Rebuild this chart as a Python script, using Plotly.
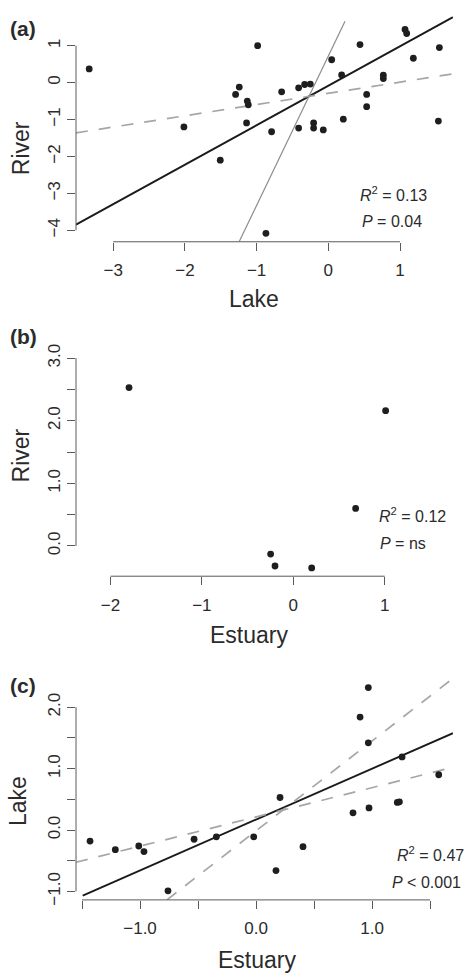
import plotly.graph_objects as go

W, H = 464, 978

# ---------------- data ----------------
# Panel (a): Lake (x) vs River (y)
lake_a = [-3.335, -2.014, -1.507, -1.293, -1.242, -1.130, -1.116, -1.140, -0.986, -0.791,
          -0.651, -0.870, -0.414, -0.414, -0.330, -0.251, -0.205, -0.205, -0.070, 0.047,
          0.186, 0.209, 0.442, 0.535, 0.535, 0.767, 0.767, 1.070, 1.093, 1.186, 1.549, 1.535]
river_a = [0.37, -1.20, -2.10, -0.32, -0.12, -0.50, -0.60, -1.09, 1.00, -1.33,
           -0.25, -4.08, -0.14, -1.23, -0.05, -0.04, -1.09, -1.23, -1.28, 0.62,
           0.21, -0.99, 1.03, -0.32, -0.65, 0.20, 0.11, 1.44, 1.33, 0.66, 0.95, -1.04]
line_a_intercept = [-0.085, -0.290, 0.720]
line_a_slope = [1.069, 0.304, 4.043]
line_a_xstart = [-3.519, -3.519, -1.242]
line_a_xend = [1.739, 1.739, 0.233]

# Panel (b): Estuary (x) vs River (y)
estuary_b = [-1.797, 1.010, 0.682, -0.248, -0.200, 0.201]
river_b = [2.53, 2.16, 0.60, -0.13, -0.32, -0.35]

# Panel (c): Estuary (x) vs Lake (y)
estuary_c = [-1.431, -1.213, -1.011, -0.966, -0.759, -0.534, -0.342, -0.020, 0.172, 0.207,
             0.405, 0.836, 0.897, 0.968, 0.968, 0.974, 1.218, 1.236, 1.259, 1.575]
lake_c = [-0.18, -0.32, -0.26, -0.35, -0.99, -0.15, -0.11, -0.11, -0.66, 0.53,
          -0.27, 0.28, 1.84, 2.32, 1.42, 0.36, 0.45, 0.46, 1.19, 0.90]
line_c_intercept = [0.171, -0.013, 0.214]
line_c_slope = [0.828, 1.462, 0.476]
line_c_xstart = [-1.494, -1.552, -1.552]
line_c_xend = [1.698, 1.698, 1.698]

# ticks (labelled major ticks, unlabelled minor ticks)
xticks_a = [-3, -2, -1, 0, 1]
xlabels_a = ["\u22123", "\u22122", "\u22121", "0", "1"]
yticks_a = [-4, -3, -2, -1, 0, 1]
ylabels_a = ["\u22124", "\u22123", "\u22122", "\u22121", "0", "1"]
xticks_b = [-2, -1, 0, 1]
xlabels_b = ["\u22122", "\u22121", "0", "1"]
yticks_b = [0.0, 1.0, 2.0, 3.0]
ylabels_b = ["0.0", "1.0", "2.0", "3.0"]
yminor_b = [0.5, 1.5, 2.5]
xticks_c = [-1.0, 0.0, 1.0]
xlabels_c = ["\u22121.0", "0.0", "1.0"]
xminor_c = [-1.5, -0.5, 0.5, 1.5]
yticks_c = [-1.0, 0.0, 1.0, 2.0]
ylabels_c = ["\u22121.0", "0.0", "1.0", "2.0"]
yminor_c = [-0.5, 0.5, 1.5]

stats_a = ["<i>R</i><sup>2</sup> = 0.13", "<i>P</i> = 0.04"]
stats_b = ["<i>R</i><sup>2</sup> = 0.12", "<i>P</i> = ns"]
stats_c = ["<i>R</i><sup>2</sup> = 0.47", "<i>P</i> &lt; 0.001"]

# ---------------- styling ----------------
FONT = "Liberation Sans, Arial, Helvetica, sans-serif"
AXC = "#5a5a5a"
TXT = "#2b2b2b"
PT = "#1e1e1e"

LEFT, RIGHT = 76, 453
panels = {
    "a": dict(top=10.3, bottom=238.7, xr=[-3.519, 1.739], yr=[-4.31, 1.80]),
    "b": dict(top=348.0, bottom=577.3, xr=[-2.377, 1.747], yr=[-0.483, 3.134]),
    "c": dict(top=681.3, bottom=905.0, xr=[-1.552, 1.698], yr=[-1.137, 2.46]),
}

def px(x):
    return x / W

def py(y):
    return 1 - y / H

fig = go.Figure()

DASH = "12px,11px"
line_styles = [
    dict(color="#1a1a1a", width=1.9),
    dict(color="#a6a6a6", width=1.7, dash=DASH),
    dict(color="#8c8c8c", width=1.2),
]
line_styles_c = [
    dict(color="#1a1a1a", width=1.9),
    dict(color="#a6a6a6", width=1.7, dash=DASH),
    dict(color="#a6a6a6", width=1.7, dash=DASH),
]

def add_lines(xa, ya, b0, b1, xs, xe, styles):
    for a, b, s, e, st in zip(b0, b1, xs, xe, styles):
        fig.add_trace(go.Scatter(x=[s, e], y=[a + b * s, a + b * e], mode="lines",
                                 line=st, xaxis=xa, yaxis=ya, hoverinfo="skip",
                                 showlegend=False))

add_lines("x", "y", line_a_intercept, line_a_slope, line_a_xstart, line_a_xend, line_styles)
add_lines("x3", "y3", line_c_intercept, line_c_slope, line_c_xstart, line_c_xend, line_styles_c)

for xs, ys, xa, ya in [(lake_a, river_a, "x", "y"), (estuary_b, river_b, "x2", "y2"),
                       (estuary_c, lake_c, "x3", "y3")]:
    fig.add_trace(go.Scatter(x=xs, y=ys, mode="markers", xaxis=xa, yaxis=ya,
                             marker=dict(color=PT, size=6.8, line=dict(width=0)),
                             showlegend=False))

tickfont = dict(family=FONT, size=17, color=TXT)

def minor_cfg(vals):
    if not vals:
        return dict(ticks="")
    return dict(tickvals=vals, ticks="outside", ticklen=8, tickwidth=1, tickcolor=AXC,
                showgrid=False)

def xaxis_cfg(p, tv, tt, anchor, minor=None):
    return dict(domain=[px(LEFT), px(RIGHT)], range=panels[p]["xr"], anchor=anchor,
                showgrid=False, zeroline=False, showline=False,
                ticks="outside", ticklen=8, tickwidth=1, tickcolor=AXC,
                tickvals=tv, ticktext=tt, tickfont=tickfont, ticklabelstandoff=5,
                minor=minor_cfg(minor))

def yaxis_cfg(p, tv, tt, anchor, minor=None):
    return dict(domain=[py(panels[p]["bottom"]), py(panels[p]["top"])],
                range=panels[p]["yr"], anchor=anchor,
                showgrid=False, zeroline=False, showline=False,
                ticks="outside", ticklen=8, tickwidth=1, tickcolor=AXC,
                tickvals=tv, ticktext=tt, tickfont=tickfont, tickangle=-90,
                ticklabelstandoff=0, minor=minor_cfg(minor))

fig.update_layout(
    width=W, height=H, margin=dict(l=0, r=0, t=0, b=0),
    paper_bgcolor="white", plot_bgcolor="white", showlegend=False,
    xaxis=xaxis_cfg("a", xticks_a, xlabels_a, "y"),
    yaxis=yaxis_cfg("a", yticks_a, ylabels_a, "x"),
    xaxis2=xaxis_cfg("b", xticks_b, xlabels_b, "y2"),
    yaxis2=yaxis_cfg("b", yticks_b, ylabels_b, "x2", yminor_b),
    xaxis3=xaxis_cfg("c", xticks_c, xlabels_c, "y3", xminor_c),
    yaxis3=yaxis_cfg("c", yticks_c, ylabels_c, "x3", yminor_c),
)

# partial (R-style) axis lines spanning first to last tick
shapes = []
for xr_, yr_, xt, yt in [("x", "y", xticks_a, yticks_a),
                         ("x2", "y2", xticks_b, yticks_b + yminor_b),
                         ("x3", "y3", xticks_c + xminor_c, yticks_c + yminor_c)]:
    shapes.append(dict(type="line", xref=xr_, yref=yr_ + " domain", x0=min(xt), x1=max(xt),
                       y0=0, y1=0, line=dict(color=AXC, width=1)))
    shapes.append(dict(type="line", xref=xr_ + " domain", yref=yr_, x0=0, x1=0,
                       y0=min(yt), y1=max(yt), line=dict(color=AXC, width=1)))
fig.update_layout(shapes=shapes)

ann = []
# panel letters
for lab, yc in [("(a)", 23), ("(b)", 335), ("(c)", 688)]:
    ann.append(dict(text="<b>%s</b>" % lab, x=px(8), y=py(yc), xref="paper", yref="paper",
                    xanchor="left", yanchor="middle", showarrow=False,
                    font=dict(family=FONT, size=21, color=TXT)))
# axis titles
titlefont = dict(family=FONT, size=23, color=TXT)
for t, xc, yc in [("Lake", 253.7, 297), ("Estuary", 248.7, 637), ("Estuary", 257, 966)]:
    ann.append(dict(text=t, x=px(xc), y=py(yc), xref="paper", yref="paper",
                    xanchor="center", yanchor="middle", showarrow=False, font=titlefont))
for t, xc, yc in [("River", 21, 144), ("River", 21, 455), ("Lake", 18, 805)]:
    ann.append(dict(text=t, x=px(xc), y=py(yc), xref="paper", yref="paper", textangle=-90,
                    xanchor="center", yanchor="middle", showarrow=False, font=titlefont))
# statistics
statfont = dict(family=FONT, size=16, color=TXT)
for lines, x0s, ycs in [(stats_a, [358, 360], [190, 218]),
                        (stats_b, [377, 378], [515, 544]),
                        (stats_c, [395, 390], [859, 887])]:
    for t, x0, yc in zip(lines, x0s, ycs):
        ann.append(dict(text=t, x=px(x0), y=py(yc), xref="paper", yref="paper",
                        xanchor="left", yanchor="middle", showarrow=False, font=statfont))
fig.update_layout(annotations=ann)

fig.write_html("out.html", config={"displayModeBar": False},
               post_script="document.body.style.margin='0';"
                           "document.body.style.overflow='hidden';"
                           "document.documentElement.style.overflow='hidden';")
